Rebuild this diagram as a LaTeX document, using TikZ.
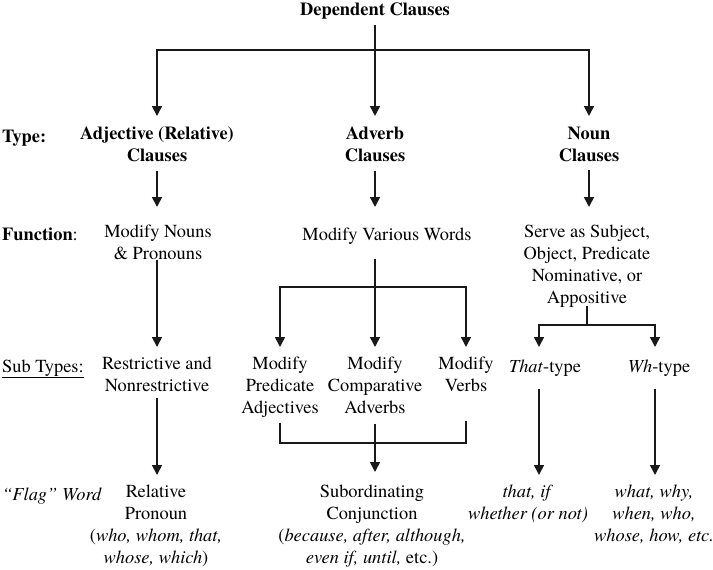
\documentclass[tikz,border=0pt]{standalone}
\usepackage{fontspec}
\setmainfont{texgyretermes}[Extension=.otf, UprightFont=*-regular, BoldFont=*-bold,
  ItalicFont=*-italic, BoldItalicFont=*-bolditalic]
\usetikzlibrary{arrows.meta}
\newcommand{\dcfont}{\fontsize{18.4}{22}\selectfont}
\tikzset{
  dccell/.style={anchor=north, align=center, inner sep=0pt, font=\dcfont,
    execute at begin node=\strut, execute at end node=\strut},
  dctype/.style={dccell, font=\dcfont\bfseries},
  dcrow/.style={anchor=base west, inner sep=0pt, font=\dcfont},
  dcline/.style={line width=1.6pt, draw=black!90},
  dcarrow/.style={dcline, -{Triangle[length=10pt,width=10pt]}}
}

\begin{document}
\begin{tikzpicture}[x=1pt,y=-1pt]
  \useasboundingbox (0,0) rectangle (713,570);
  \node[dctype] (title) at (375,0) {Dependent Clauses};
  \node[dcrow] (rtype) at (2,142) {\textbf{Type:}};
  \node[dcrow] (rfunc) at (2,240) {\textbf{Function}:};
  \node[dcrow] (rsub) at (2,372) {\underline{Sub Types:}};
  \node[dcrow] (rflag) at (2,500) {\textit{“Flag” Word}};

  \node[dctype] (adjT) at (157,126.6) {Adjective (Relative)\\Clauses};
  \node[dctype] (advT) at (375,126.6) {Adverb\\Clauses};
  \node[dctype] (nounT) at (589,126.6) {Noun\\Clauses};

  \node[dccell] (adjF) at (158,224.6) {Modify Nouns\\\& Pronouns};
  \node[dccell] (advF) at (387,224.6) {Modify Various Words};
  \node[dccell] (nounF) at (587,224.6) {Serve as Subject,\\Object, Predicate\\Nominative, or\\Appositive};

  \node[dccell] (adjS) at (157,356.6) {Restrictive and\\Nonrestrictive};
  \node[dccell] (predS) at (280,356.6) {Modify\\Predicate\\Adjectives};
  \node[dccell] (compS) at (375,356.6) {Modify\\Comparative\\Adverbs};
  \node[dccell] (verbS) at (466,356.6) {Modify\\Verbs};
  \node[dccell] (thatS) at (545,356.6) {\textit{That}-type};
  \node[dccell] (whS) at (659,356.6) {\textit{Wh}-type};

  \node[dccell] (adjW) at (156,484.6) {Relative\\Pronoun\\(\textit{who, whom, that,}\\\textit{whose, which})};
  \node[dccell] (advW) at (372,484.6) {Subordinating\\Conjunction\\(\textit{because, after, although,}\\\textit{even if, until,} etc.)};
  \node[dccell] (thatW) at (528,484.6) {\textit{that, if}\\\textit{whether (or not)}};
  \node[dccell] (whW) at (654,484.6) {\textit{what, why,}\\\textit{when, who,}\\\textit{whose, how, etc.}};

  \coordinate (j0) at (375,50);
  \coordinate (j1) at (375,287);
  \coordinate (j2) at (587,325);
  \coordinate (j3) at (375,443);

  \draw[dcarrow, shorten <=3pt, shorten >=10.6pt] (title) -- (advT);
  \draw[dcarrow, shorten >=10.6pt] (j0) -| (adjT);
  \draw[dcarrow, shorten >=10.6pt] (j0) -| (nounT);

  \draw[dcarrow, shorten <=2.4pt, shorten >=17.6pt] (adjT.south) -- (adjT.south |- adjF.north);
  \draw[dcarrow, shorten <=2.4pt, shorten >=17.6pt] (advT.south) -- (advT.south |- advF.north);
  \draw[dcarrow, shorten <=2.4pt, shorten >=17.6pt] (nounT.south) -- (nounT.south |- nounF.north);

  \draw[dcarrow, shorten <=-6.6pt, shorten >=9.6pt] (adjF.south -| adjS.north) -- (adjS.north);
  \draw[dcarrow, shorten <=12.4pt, shorten >=9.6pt] (advF.south -| compS.north) -- (compS.north);
  \draw[dcarrow, shorten >=9.6pt] (j1) -| (predS);
  \draw[dcarrow, shorten >=9.6pt] (j1) -| (verbS);
  \draw[dcline, shorten <=-4.6pt] (nounF) -- (j2);
  \draw[dcarrow, shorten >=9.6pt] (j2) -| ([xshift=-6pt]thatS.north);
  \draw[dcarrow, shorten >=9.6pt] (j2) -| ([xshift=-4pt]whS.north);

  \draw[dcarrow, shorten <=-0.6pt, shorten >=9.6pt] (adjS.south) -- (adjS.south |- adjW.north);
  \draw[dcline, shorten <=2.4pt] (predS) |- (j3);
  \draw[dcline, shorten <=22.4pt] (verbS) |- (j3);
  \draw[dcarrow, shorten <=3.4pt, shorten >=12.6pt] (compS.south) -- (compS.south |- advW.north);
  \draw[dcarrow, shorten <=10.4pt, shorten >=9.6pt] ([xshift=-6pt]thatS.south) -- ([xshift=-6pt]thatS.south |- thatW.north);
  \draw[dcarrow, shorten <=10.4pt, shorten >=9.6pt] ([xshift=-4pt]whS.south) -- ([xshift=-4pt]whS.south |- whW.north);
\end{tikzpicture}
\end{document}
